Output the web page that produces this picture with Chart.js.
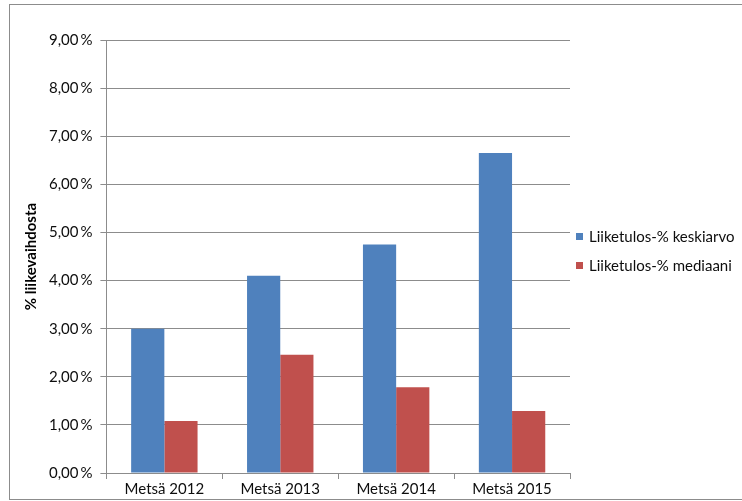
<!DOCTYPE html>
<html>
<head>
<meta charset="utf-8">
<script src="https://cdn.jsdelivr.net/npm/chart.js@4"></script>
<style>
html,body{margin:0;padding:0;background:#fff;}
#wrap{position:relative;width:742px;height:501px;}
</style>
</head>
<body>
<div id="wrap"><canvas id="c" width="742" height="501"></canvas></div>
<script>
const categories = ['Metsä 2012', 'Metsä 2013', 'Metsä 2014', 'Metsä 2015'];
const seriesNames = ['Liiketulos-% keskiarvo', 'Liiketulos-% mediaani'];
const keskiarvo = [3.00, 4.10, 4.75, 6.65];
const mediaani = [1.08, 2.46, 1.78, 1.29];
const yTickValues = [0, 1, 2, 3, 4, 5, 6, 7, 8, 9];
const yTitle = '% liikevaihdosta';

const FONT = 'Lato, "Open Sans", sans-serif';
const GRID = '#8c8c8c';
const TEXT = '#0d0d0d';

const framePlugin = {
  id: 'frame',
  afterDraw(chart) {
    const ctx = chart.ctx;
    ctx.save();
    ctx.strokeStyle = '#8c8c8c';
    ctx.lineWidth = 1;
    ctx.strokeRect(9.5, 4.5, 800, 495);
    ctx.restore();
  }
};

const legendPlugin = {
  id: 'customLegend',
  afterDraw(chart) {
    const ctx = chart.ctx;
    ctx.save();
    ctx.font = '15px ' + FONT;
    ctx.textBaseline = 'middle';
    ctx.textAlign = 'left';
    const x0 = chart.chartArea.right + 6;
    const ys = [237, 266];
    chart.data.datasets.forEach((ds, i) => {
      ctx.fillStyle = ds.backgroundColor;
      ctx.fillRect(x0, ys[i] - 4, 7, 7);
      ctx.fillStyle = TEXT;
      ctx.fillText(ds.label, x0 + 13, ys[i]);
    });
    ctx.restore();
  }
};

new Chart(document.getElementById('c'), {
  type: 'bar',
  data: {
    labels: categories,
    datasets: [
      { label: seriesNames[0], data: keskiarvo, backgroundColor: '#4F81BD', borderWidth: 0 },
      { label: seriesNames[1], data: mediaani, backgroundColor: '#C0504D', borderWidth: 0 }
    ]
  },
  options: {
    responsive: false,
    animation: false,
    layout: { padding: { left: 22, right: 172, top: 40, bottom: 2 } },
    plugins: {
      legend: { display: false },
      tooltip: { enabled: false }
    },
    datasets: { bar: { categoryPercentage: 0.573, barPercentage: 1.0 } },
    scales: {
      x: {
        grid: { display: true, drawOnChartArea: false, color: GRID, tickLength: 6, offset: true },
        border: { display: true, color: GRID },
        ticks: { color: TEXT, font: { family: FONT, size: 15 }, padding: 1, maxRotation: 0 }
      },
      y: {
        min: 0, max: 9,
        afterBuildTicks(axis) { axis.ticks = yTickValues.map(v => ({ value: v })); },
        grid: { color: GRID, tickLength: 6 },
        border: { display: true, color: GRID },
        title: { display: true, text: yTitle, color: '#000', font: { family: FONT, size: 15, weight: 'bold' }, padding: { top: 0, bottom: 1 } },
        ticks: {
          color: TEXT, font: { family: FONT, size: 15 }, padding: 8,
          callback: v => v.toFixed(2).replace('.', ',') + '\u2009%'
        }
      }
    }
  },
  plugins: [framePlugin, legendPlugin]
});
</script>
</body>
</html>
